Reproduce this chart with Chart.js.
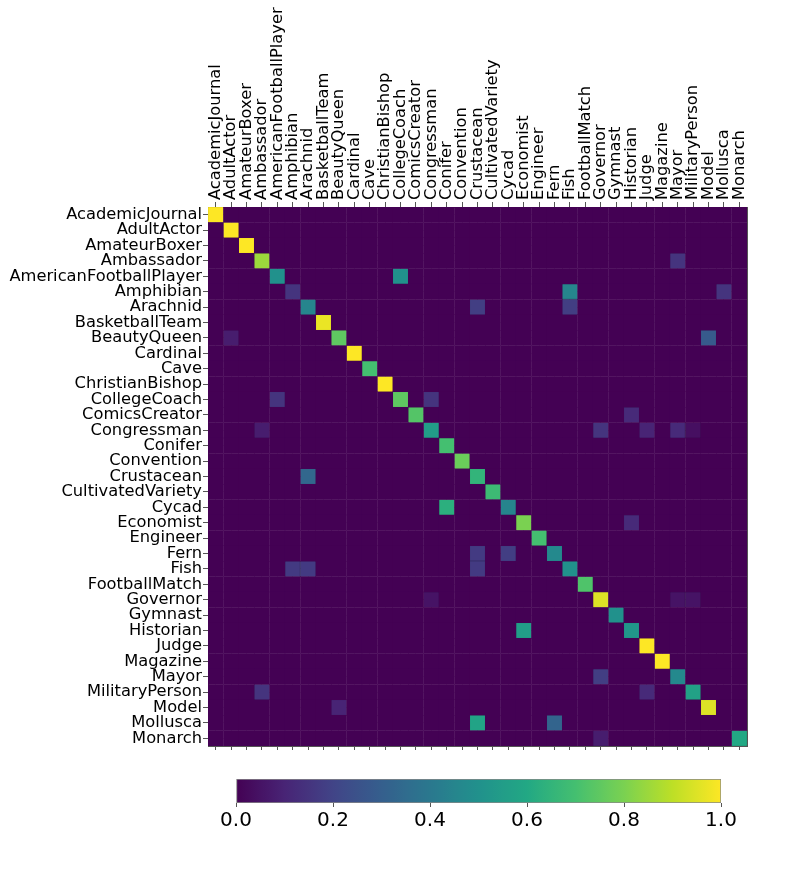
<!DOCTYPE html>
<html>
<head>
<meta charset="utf-8">
<script src="https://cdn.jsdelivr.net/npm/chart.js@4.4.1/dist/chart.umd.min.js"></script>
<style>
  html, body { margin: 0; padding: 0; background: #fff; }
  #wrap { position: relative; width: 789px; height: 888px; overflow: hidden; }
  #mainChart { position: absolute; left: 0; top: 0; }
  #barChart { position: absolute; left: 0; top: 760px; }
</style>
</head>
<body>
<div id="wrap">
  <canvas id="mainChart" width="789" height="760"></canvas>
  <canvas id="barChart" width="789" height="90"></canvas>
</div>
<script>
// classes (same order on both axes)
var labels = [
  "AcademicJournal", "AdultActor", "AmateurBoxer", "Ambassador", "AmericanFootballPlayer",
  "Amphibian", "Arachnid", "BasketballTeam", "BeautyQueen", "Cardinal",
  "Cave", "ChristianBishop", "CollegeCoach", "ComicsCreator", "Congressman",
  "Conifer", "Convention", "Crustacean", "CultivatedVariety", "Cycad",
  "Economist", "Engineer", "Fern", "Fish", "FootballMatch",
  "Governor", "Gymnast", "Historian", "Judge", "Magazine",
  "Mayor", "MilitaryPerson", "Model", "Mollusca", "Monarch"
];

// non-zero cells of the matrix (row = true class, col = predicted)
var cellRows = [0, 1, 2, 3, 3, 4, 4, 5, 5, 5, 6, 6, 6, 7, 8, 8, 8, 9, 10, 11,
  12, 12, 12, 13, 13, 14, 14, 14, 14, 14, 14, 15, 16, 17, 17, 18, 19, 19, 20, 20,
  21, 22, 22, 22, 23, 23, 23, 23, 24, 25, 25, 25, 25, 26, 27, 27, 28, 29, 30, 30,
  31, 31, 31, 32, 32, 33, 33, 34, 34];
var cellCols = [0, 1, 2, 3, 30, 4, 12, 5, 23, 33, 6, 17, 23, 7, 8, 1, 32, 9, 10, 11,
  12, 4, 14, 13, 27, 14, 3, 25, 28, 30, 31, 15, 16, 17, 6, 18, 19, 15, 20, 27,
  21, 22, 17, 19, 23, 17, 5, 6, 24, 25, 14, 30, 31, 26, 27, 20, 28, 29, 30, 25,
  31, 3, 28, 32, 8, 17, 22, 34, 25];
var cellValues = [1.0, 1.0, 1.0, 0.85, 0.15, 0.5, 0.5, 0.15, 0.45, 0.15, 0.45, 0.18, 0.18, 0.97, 0.75, 0.08, 0.28, 1.0, 0.7, 1.0,
  0.75, 0.15, 0.15, 0.73, 0.12, 0.55, 0.08, 0.15, 0.1, 0.12, 0.04, 0.7, 0.77, 0.65, 0.33, 0.68, 0.45, 0.63, 0.8, 0.12,
  0.7, 0.47, 0.17, 0.18, 0.5, 0.17, 0.17, 0.17, 0.72, 0.95, 0.05, 0.05, 0.05, 0.5, 0.52, 0.55, 1.0, 1.0, 0.47, 0.18,
  0.57, 0.15, 0.12, 0.95, 0.1, 0.58, 0.32, 0.6, 0.08];

var colorbarTicks = [0.0, 0.2, 0.4, 0.6, 0.8, 1.0];

// viridis colormap
var viridisStops = ["#440154", "#482475", "#414487", "#355f8d", "#2a788e", "#21918c",
  "#22a884", "#44bf70", "#7ad151", "#bddf26", "#fde725"];
function hexToRgb(h) {
  return [parseInt(h.substr(1, 2), 16), parseInt(h.substr(3, 2), 16), parseInt(h.substr(5, 2), 16)];
}
function viridis(t) {
  t = Math.max(0, Math.min(1, t));
  var p = t * (viridisStops.length - 1);
  var i = Math.min(Math.floor(p), viridisStops.length - 2);
  var f = p - i;
  var a = hexToRgb(viridisStops[i]), b = hexToRgb(viridisStops[i + 1]);
  var c = a.map(function(v, k) { return Math.round(v + (b[k] - v) * f); });
  return "rgb(" + c[0] + "," + c[1] + "," + c[2] + ")";
}

Chart.defaults.font.family = "'DejaVu Sans', sans-serif";
Chart.defaults.color = "#000";

var n = labels.length;
var labelSize = 16.3;

// build cells: zero cells first, then the non-zero ones on top
var filled = {};
var valueCells = [];
for (var k = 0; k < cellValues.length; k++) {
  filled[cellRows[k] + "_" + cellCols[k]] = true;
  valueCells.push({ x: cellCols[k], y: cellRows[k], v: cellValues[k] });
}
var zeroCells = [];
for (var r = 0; r < n; r++) {
  for (var c = 0; c < n; c++) {
    if (!filled[r + "_" + c]) zeroCells.push({ x: c, y: r, v: 0 });
  }
}

function cellRadius(ctx) {
  var area = ctx.chart.chartArea;
  if (!area) return 10;
  var w = (area.right - area.left) / n;
  return (w + 0.4) / Math.SQRT2;
}
function cellColor(ctx) {
  var d = ctx.raw;
  return viridis(d ? d.v : 0);
}
function fixedTicks(scale) {
  scale.ticks = labels.map(function(_, i) { return { value: i }; });
}

var gridColor = "rgba(0,0,0,0.26)";
var axisColor = "#555";

new Chart(document.getElementById("mainChart"), {
  type: "scatter",
  data: {
    datasets: [
      {
        label: "zero",
        data: zeroCells,
        pointStyle: "rect",
        pointRadius: cellRadius,
        backgroundColor: cellColor,
        borderWidth: 0
      },
      {
        label: "values",
        data: valueCells,
        pointStyle: "rect",
        pointRadius: cellRadius,
        backgroundColor: cellColor,
        borderColor: "rgba(0,0,0,0.18)",
        borderWidth: 1
      }
    ]
  },
  options: {
    responsive: false,
    animation: false,
    events: [],
    layout: { padding: { left: 0, top: 0, right: 42, bottom: 8 } },
    plugins: { legend: { display: false }, tooltip: { enabled: false } },
    scales: {
      x: {
        type: "linear",
        position: "top",
        min: -0.5,
        max: n - 0.5,
        z: 1,
        afterBuildTicks: fixedTicks,
        afterFit: function(s) { s.height = 207; },
        ticks: {
          autoSkip: false,
          minRotation: 90,
          maxRotation: 90,
          padding: 2,
          // rotated labels are pushed one half line-height left twice; put them back on the tick
          labelOffset: labelSize * 1.2,
          font: { size: labelSize },
          callback: function(v) { return labels[v]; }
        },
        grid: { color: gridColor, tickColor: axisColor, tickLength: 5 },
        border: { display: true, color: axisColor, width: 1 }
      },
      y: {
        type: "linear",
        position: "left",
        reverse: true,
        min: -0.5,
        max: n - 0.5,
        z: 1,
        afterBuildTicks: fixedTicks,
        afterFit: function(s) { s.width = 208; },
        ticks: {
          autoSkip: false,
          padding: 1,
          font: { size: labelSize },
          callback: function(v) { return labels[v]; }
        },
        grid: { color: gridColor, tickColor: axisColor, tickLength: 5 },
        border: { display: true, color: axisColor, width: 1 }
      },
      x2: {
        type: "linear",
        axis: "x",
        position: "bottom",
        min: -0.5,
        max: n - 0.5,
        z: 1,
        afterBuildTicks: fixedTicks,
        afterFit: function(s) { s.height = 6; },
        ticks: { display: false },
        grid: { drawOnChartArea: false, tickColor: axisColor, tickLength: 4 },
        border: { display: true, color: axisColor, width: 1 }
      },
      y2: {
        type: "linear",
        axis: "y",
        position: "right",
        min: -0.5,
        max: n - 0.5,
        z: 1,
        afterFit: function(s) { s.width = 0; },
        ticks: { display: false },
        grid: { drawOnChartArea: false, drawTicks: false },
        border: { display: true, color: axisColor, width: 1 }
      }
    }
  }
});

// colorbar
new Chart(document.getElementById("barChart"), {
  type: "bar",
  data: {
    labels: [""],
    datasets: [{
      data: [[0, 1]],
      backgroundColor: function(ctx) {
        var chart = ctx.chart;
        if (!chart.chartArea) return viridis(0.5);
        var xs = chart.scales.x;
        var g = chart.ctx.createLinearGradient(xs.getPixelForValue(0), 0, xs.getPixelForValue(1), 0);
        for (var i = 0; i <= 40; i++) g.addColorStop(i / 40, viridis(i / 40));
        return g;
      },
      borderColor: "#888",
      borderWidth: 1,
      borderSkipped: false,
      barPercentage: 1,
      categoryPercentage: 1
    }]
  },
  options: {
    indexAxis: "y",
    responsive: false,
    animation: false,
    events: [],
    layout: { padding: { left: 236, right: 68, top: 19, bottom: 7 } },
    plugins: { legend: { display: false }, tooltip: { enabled: false } },
    scales: {
      x: {
        type: "linear",
        min: 0,
        max: 1,
        afterBuildTicks: function(s) {
          s.ticks = colorbarTicks.map(function(v) { return { value: v }; });
        },
        afterFit: function(s) { s.height = 40; },
        ticks: {
          padding: 2,
          font: { size: 20 },
          callback: function(v) { return v.toFixed(1); }
        },
        grid: { drawOnChartArea: false, tickColor: axisColor, tickLength: 4 },
        border: { display: false }
      },
      y: { display: false }
    }
  }
});
</script>
</body>
</html>
